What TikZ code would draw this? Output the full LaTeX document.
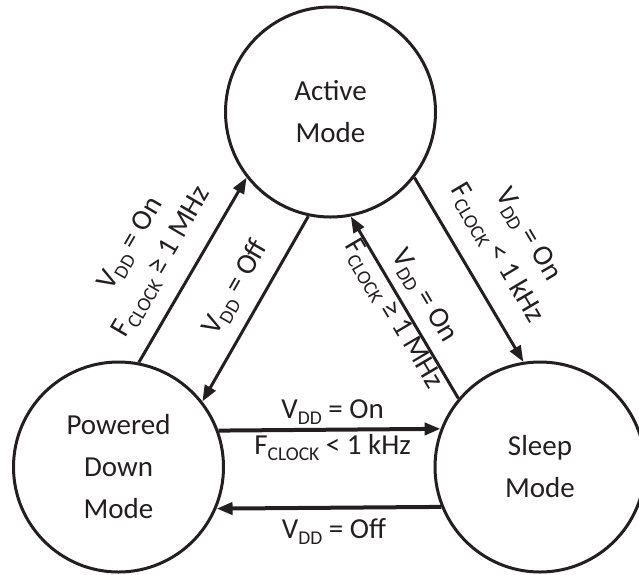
\documentclass[tikz,border=0pt]{standalone}
\usepackage{fontspec}
\setmainfont{Carlito}
\usetikzlibrary{arrows.meta}
\definecolor{ink}{RGB}{35,31,32}
\newcommand\lsub[1]{\raisebox{-5.5pt}{\fontsize{19.5}{19.5}\selectfont #1}}
\begin{document}
\begin{tikzpicture}[x=1pt,y=1pt,
  state/.style={circle, draw=ink, line width=3pt, minimum size=210pt, inner sep=0pt,
    align=center, font=\fontsize{29}{42}\selectfont, text=ink},
  conn/.style={draw=ink, line width=3pt, -{Triangle[length=16pt,width=12pt]}},
  hconn/.style={conn, line width=4pt},
  lbl/.style={font=\fontsize{29}{36}\selectfont, text=ink, align=center, inner sep=0pt}]
\useasboundingbox (0,0) rectangle (639,-574);
\node[state] (active) at (330.5,-112) {Active\\Mode};
\node[state] (pd) at (118.5,-467) {Powered\\Down\\Mode};
\node[state] (sleep) at (540,-467) {Sleep\\Mode};
\draw[conn] (pd.79.4) -- node[lbl, sloped, pos=0.46, yshift=48] (l1)
  {V\lsub{DD} = On\\F\lsub{CLOCK} ≥ 1 MHz} (active.218.8);
\draw[conn] (active.258.5) -- node[lbl, sloped, pos=0.46, yshift=27] (l2)
  {V\lsub{DD} = Off} (pd.38.3);
\draw[conn] (active.322) -- node[lbl, sloped, pos=0.5, yshift=50] (l3)
  {V\lsub{DD} = On\\F\lsub{CLOCK} < 1 kHz} (sleep.99.8);
\draw[conn] (sleep.140.3) -- node[lbl, sloped, pos=0.5, yshift=4] (l4)
  {V\lsub{DD} = On\\F\lsub{CLOCK} ≥ 1 MHz} (active.281);
\draw[hconn] (pd.20.3) -- node[lbl, anchor=base, yshift=11, xshift=3] (l5)
  {V\lsub{DD} = On} node[lbl, anchor=base, yshift=-25, xshift=3] (l6)
  {F\lsub{CLOCK} < 1 kHz} (sleep.159.7);
\draw[hconn] (sleep.202.06) -- node[lbl, anchor=base, yshift=-31, xshift=5] (l7)
  {V\lsub{DD} = Off} (pd.337.94);
\end{tikzpicture}
\end{document}
